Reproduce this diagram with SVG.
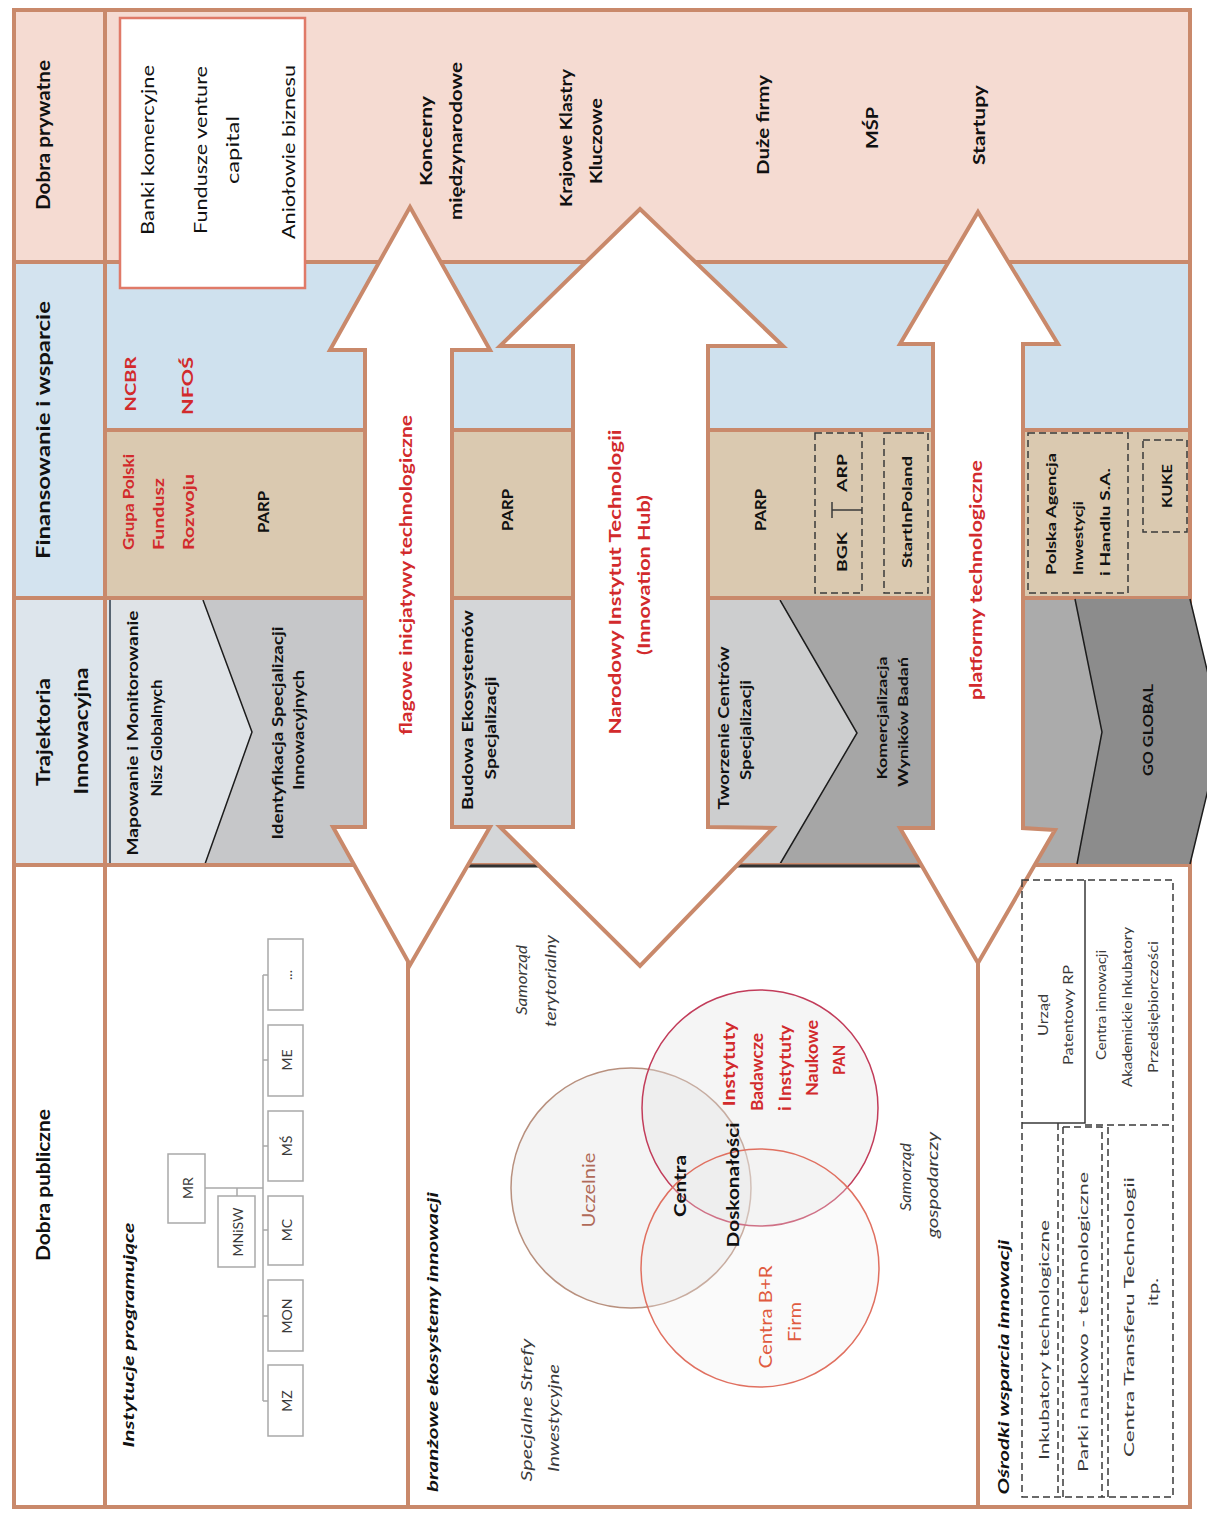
<svg xmlns="http://www.w3.org/2000/svg" width="1207" height="1515" viewBox="0 0 1207 1515">
<style>
.t{font-family:Lato,"Open Sans","Liberation Sans",sans-serif;dominant-baseline:central;text-anchor:middle;fill:#111}
.s{text-anchor:start}
.b{font-weight:700}
.i{font-style:italic}
.r{fill:#d22a2c}
.h{font-size:19px}
.m{font-size:17px}
.n{font-size:15px}
.k{font-size:14px}
.g{fill:#3a3a3a}
.br{stroke:#c9896b;stroke-width:4;fill:none}
.ar{fill:#fff;stroke:#c9896b;stroke-width:4;stroke-linejoin:miter}
.d{fill:none;stroke:#3a3a3a;stroke-width:1.5;stroke-dasharray:7 4}
.sl{fill:none;stroke:#3a3a3a;stroke-width:1.5}
.ob{fill:#fff;stroke:#a9a9a9;stroke-width:1.5}
.cl{fill:none;stroke:#a9a9a9;stroke-width:1.5}
.ch{fill:none;stroke:#1c1c1c;stroke-width:1.5}
</style>
<rect width="1207" height="1515" fill="#fff"/>
<!-- background bands -->
<g id="bands">
<rect x="14" y="10" width="1176" height="252" fill="#f5dbd2"/>
<rect x="14" y="262" width="91" height="336" fill="#d3e3ef"/>
<rect x="105" y="262" width="1085" height="168" fill="#cfe1ee"/>
<rect x="105" y="430" width="1085" height="168" fill="#dac9b0"/>
<rect x="14" y="598" width="91" height="267" fill="#dde5ec"/>
</g>
<!-- trajectory shapes -->
<g id="trajektoria">
<rect x="105" y="598" width="315" height="267" fill="#dfe3e7"/>
<polygon points="203,598 252,732 205,865 420,865 420,598" fill="#c6c7c9"/>
<polyline class="ch" points="203,600 252,732 205,864"/>
<line x1="110" y1="600" x2="110" y2="864" stroke="#2a3a4a" stroke-width="1.5"/>
<rect x="420" y="598" width="220" height="267" fill="#d4d6d8"/>
<rect x="640" y="598" width="338" height="267" fill="#cdcecf"/>
<polygon points="780,598 857,733 780,865 978,865 978,598" fill="#a6a6a6"/>
<polyline class="ch" points="780,600 857,733 780,864"/>
<rect x="978" y="598" width="212" height="267" fill="#ababab"/>
</g>
<!-- grid lines -->
<g id="grid">
<rect class="br" x="14" y="10" width="1176" height="1497"/>
<path class="br" d="M105 10 V1507 M14 262 H1190 M105 430 H1190 M14 598 H1190 M14 865 H1190"/>
<path d="M440 866 H940" stroke="#333" stroke-width="3"/>
</g>
<!-- big arrows -->
<g id="arrow-flagowe">
<polygon class="ar" points="410,207 490,350 452,350 452,827 490,827 410,965 333,827 365,827 365,350 330,350"/>
<text class="t b r m" transform="translate(405,575) rotate(-90)" textLength="320" lengthAdjust="spacingAndGlyphs">flagowe inicjatywy technologiczne</text>
</g>
<g id="arrow-nit">
<polygon class="ar" points="640,209 783,346 708,346 708,827 773,828 640,966 500,827 573,827 573,346 500,346"/>
<text class="t b r m" transform="translate(614,582) rotate(-90)" textLength="305" lengthAdjust="spacingAndGlyphs">Narodowy Instytut Technologii</text>
<text class="t b r m" transform="translate(643,575) rotate(-90)" textLength="160" lengthAdjust="spacingAndGlyphs">(Innovation Hub)</text>
</g>
<g id="arrow-platformy">
<polygon class="ar" points="978,212 1058,344 1023,344 1023,828 1055,830 978,963 900,828 933,828 933,344 900,344"/>
<text class="t b r m" transform="translate(975,580) rotate(-90)" textLength="240" lengthAdjust="spacingAndGlyphs">platformy technologiczne</text>
</g>
<path class="br" d="M408 962 V1507 M978 961 V1507"/>
<!-- GO GLOBAL -->
<g id="go-global">
<polygon points="1075,599 1190,599 1222,732 1190,864 1077,864 1102,732" fill="#8c8c8c"/>
<polyline class="ch" points="1075,599 1102,732 1077,864"/>
<polyline class="ch" points="1190,599 1222,732 1190,864"/>
<text class="t b k" transform="translate(1147,730) rotate(-90)" textLength="92" lengthAdjust="spacingAndGlyphs">GO GLOBAL</text>
</g>
<!-- headers -->
<g id="hdr-prywatne"><text class="t b h" transform="translate(42,135) rotate(-90)" textLength="150" lengthAdjust="spacingAndGlyphs">Dobra prywatne</text></g>
<g id="hdr-finansowanie"><text class="t b h" transform="translate(42,430) rotate(-90)" textLength="258" lengthAdjust="spacingAndGlyphs">Finansowanie i wsparcie</text></g>
<g id="hdr-trajektoria">
<text class="t b h" transform="translate(42,732) rotate(-90)" textLength="108" lengthAdjust="spacingAndGlyphs">Trajektoria</text>
<text class="t b h" transform="translate(80,731) rotate(-90)" textLength="127" lengthAdjust="spacingAndGlyphs">Innowacyjna</text>
</g>
<g id="hdr-publiczne"><text class="t b h" transform="translate(42,1185) rotate(-90)" textLength="152" lengthAdjust="spacingAndGlyphs">Dobra publiczne</text></g>
<!-- row 1 -->
<g id="banki">
<rect x="120" y="18" width="185" height="270" fill="#fff" stroke="#e07a68" stroke-width="2.5"/>
<text class="t m" transform="translate(147,150) rotate(-90)" textLength="170" lengthAdjust="spacingAndGlyphs">Banki komercyjne</text>
<text class="t m" transform="translate(200,150) rotate(-90)" textLength="168" lengthAdjust="spacingAndGlyphs">Fundusze venture</text>
<text class="t m" transform="translate(232,150) rotate(-90)" textLength="68" lengthAdjust="spacingAndGlyphs">capital</text>
<text class="t m" transform="translate(288,152) rotate(-90)" textLength="174" lengthAdjust="spacingAndGlyphs">Aniołowie biznesu</text>
</g>
<g id="koncerny">
<text class="t b m" transform="translate(425,141) rotate(-90)" textLength="90" lengthAdjust="spacingAndGlyphs">Koncerny</text>
<text class="t b m" transform="translate(455,141) rotate(-90)" textLength="158" lengthAdjust="spacingAndGlyphs">międzynarodowe</text>
</g>
<g id="klastry">
<text class="t b m" transform="translate(565,138) rotate(-90)" textLength="138" lengthAdjust="spacingAndGlyphs">Krajowe Klastry</text>
<text class="t b m" transform="translate(595,141) rotate(-90)" textLength="86" lengthAdjust="spacingAndGlyphs">Kluczowe</text>
</g>
<g id="duze"><text class="t b m" transform="translate(762,125) rotate(-90)" textLength="100" lengthAdjust="spacingAndGlyphs">Duże firmy</text></g>
<g id="msp"><text class="t b m" transform="translate(871,128) rotate(-90)" textLength="42" lengthAdjust="spacingAndGlyphs">MŚP</text></g>
<g id="startupy"><text class="t b m" transform="translate(978,125) rotate(-90)" textLength="80" lengthAdjust="spacingAndGlyphs">Startupy</text></g>
<!-- row 2 -->
<g id="ncbr">
<text class="t b r n" transform="translate(130,384) rotate(-90)" textLength="55" lengthAdjust="spacingAndGlyphs">NCBR</text>
<text class="t b r n" transform="translate(187,386) rotate(-90)" textLength="58" lengthAdjust="spacingAndGlyphs">NFOŚ</text>
</g>
<g id="pfr">
<text class="t s b r n" transform="translate(128,550) rotate(-90)" textLength="96" lengthAdjust="spacingAndGlyphs">Grupa Polski</text>
<text class="t s b r n" transform="translate(158,550) rotate(-90)" textLength="72" lengthAdjust="spacingAndGlyphs">Fundusz</text>
<text class="t s b r n" transform="translate(188,550) rotate(-90)" textLength="76" lengthAdjust="spacingAndGlyphs">Rozwoju</text>
</g>
<g id="parp1"><text class="t b n" transform="translate(263,512) rotate(-90)" textLength="42" lengthAdjust="spacingAndGlyphs">PARP</text></g>
<g id="parp2"><text class="t b n" transform="translate(507,510) rotate(-90)" textLength="42" lengthAdjust="spacingAndGlyphs">PARP</text></g>
<g id="parp3"><text class="t b n" transform="translate(760,510) rotate(-90)" textLength="42" lengthAdjust="spacingAndGlyphs">PARP</text></g>
<g id="bgk-arp">
<rect class="d" x="815" y="433" width="47" height="160"/>
<path class="sl" d="M832 510 H862 M832 502 V518"/>
<text class="t b k" transform="translate(841,473) rotate(-90)" textLength="38" lengthAdjust="spacingAndGlyphs">ARP</text>
<text class="t b k" transform="translate(841,552) rotate(-90)" textLength="40" lengthAdjust="spacingAndGlyphs">BGK</text>
</g>
<g id="startinpoland">
<rect class="d" x="884" y="433" width="44" height="160"/>
<text class="t b k" transform="translate(906,512) rotate(-90)" textLength="112" lengthAdjust="spacingAndGlyphs">StartInPoland</text>
</g>
<g id="paih">
<rect class="d" x="1028" y="433" width="100" height="160"/>
<text class="t s b k" transform="translate(1050,575) rotate(-90)" textLength="122" lengthAdjust="spacingAndGlyphs">Polska Agencja</text>
<text class="t s b k" transform="translate(1077,575) rotate(-90)" textLength="74" lengthAdjust="spacingAndGlyphs">Inwestycji</text>
<text class="t s b k" transform="translate(1104,576) rotate(-90)" textLength="108" lengthAdjust="spacingAndGlyphs">i Handlu S.A.</text>
</g>
<g id="kuke">
<rect class="d" x="1143" y="440" width="44" height="92"/>
<text class="t b k" transform="translate(1166,486) rotate(-90)" textLength="44" lengthAdjust="spacingAndGlyphs">KUKE</text>
</g>
<!-- row 3 texts -->
<g id="mapowanie">
<text class="t b n" transform="translate(132,733) rotate(-90)" textLength="245" lengthAdjust="spacingAndGlyphs">Mapowanie i Monitorowanie</text>
<text class="t b n" transform="translate(156,738) rotate(-90)" textLength="117" lengthAdjust="spacingAndGlyphs">Nisz Globalnych</text>
</g>
<g id="identyfikacja">
<text class="t b n" transform="translate(277,733) rotate(-90)" textLength="213" lengthAdjust="spacingAndGlyphs">Identyfikacja Specjalizacji</text>
<text class="t b n" transform="translate(298,730) rotate(-90)" textLength="120" lengthAdjust="spacingAndGlyphs">Innowacyjnych</text>
</g>
<g id="budowa">
<text class="t b n" transform="translate(467,710) rotate(-90)" textLength="200" lengthAdjust="spacingAndGlyphs">Budowa Ekosystemów</text>
<text class="t b n" transform="translate(490,728) rotate(-90)" textLength="103" lengthAdjust="spacingAndGlyphs">Specjalizacji</text>
</g>
<g id="tworzenie">
<text class="t b n" transform="translate(723,728) rotate(-90)" textLength="163" lengthAdjust="spacingAndGlyphs">Tworzenie Centrów</text>
<text class="t b n" transform="translate(745,730) rotate(-90)" textLength="100" lengthAdjust="spacingAndGlyphs">Specjalizacji</text>
</g>
<g id="komercjalizacja">
<text class="t b k" transform="translate(881,718) rotate(-90)" textLength="123" lengthAdjust="spacingAndGlyphs">Komercjalizacja</text>
<text class="t b k" transform="translate(902,722) rotate(-90)" textLength="130" lengthAdjust="spacingAndGlyphs">Wyników Badań</text>
</g>
<!-- row 4: instytucje programujace -->
<g id="instytucje"><text class="t b i n" transform="translate(128,1335) rotate(-90)" textLength="225" lengthAdjust="spacingAndGlyphs">Instytucje programujące</text></g>
<g id="connectors">
<path class="cl" d="M205 1188 H263 M237 1188 V1196 M263 975 V1401 M263 975 H268 M263 1060 H268 M263 1146 H268 M263 1230 H268 M263 1316 H268 M263 1401 H268"/>
</g>
<g id="mr"><rect class="ob" x="168" y="1154" width="37" height="69"/><text class="t k g" transform="translate(187,1188) rotate(-90)">MR</text></g>
<g id="mnisw"><rect class="ob" x="218" y="1196" width="37" height="71"/><text class="t k g" transform="translate(237,1232) rotate(-90)">MNiSW</text></g>
<g id="dots"><rect class="ob" x="268" y="939" width="35" height="71"/><text class="t k g" transform="translate(286,975) rotate(-90)">...</text></g>
<g id="me"><rect class="ob" x="268" y="1025" width="35" height="71"/><text class="t k g" transform="translate(286,1060) rotate(-90)">ME</text></g>
<g id="ms"><rect class="ob" x="268" y="1111" width="35" height="70"/><text class="t k g" transform="translate(286,1146) rotate(-90)">MŚ</text></g>
<g id="mc"><rect class="ob" x="268" y="1196" width="35" height="69"/><text class="t k g" transform="translate(286,1230) rotate(-90)">MC</text></g>
<g id="mon"><rect class="ob" x="268" y="1280" width="35" height="71"/><text class="t k g" transform="translate(286,1316) rotate(-90)">MON</text></g>
<g id="mz"><rect class="ob" x="268" y="1365" width="35" height="71"/><text class="t k g" transform="translate(286,1401) rotate(-90)">MZ</text></g>
<!-- row 4: ekosystemy -->
<g id="ekosystemy"><text class="t b i n" transform="translate(432,1342) rotate(-90)" textLength="300" lengthAdjust="spacingAndGlyphs">branżowe ekosystemy innowacji</text></g>
<g id="samorzad-ter">
<text class="t i n g" transform="translate(521,980) rotate(-90)" textLength="70" lengthAdjust="spacingAndGlyphs">Samorząd</text>
<text class="t i n g" transform="translate(550,981) rotate(-90)" textLength="92" lengthAdjust="spacingAndGlyphs">terytorialny</text>
</g>
<g id="sse">
<text class="t i n g" transform="translate(526,1410) rotate(-90)" textLength="143" lengthAdjust="spacingAndGlyphs">Specjalne Strefy</text>
<text class="t i n g" transform="translate(553,1418) rotate(-90)" textLength="108" lengthAdjust="spacingAndGlyphs">Inwestycyjne</text>
</g>
<g id="samorzad-gosp">
<text class="t i n g" transform="translate(905,1177) rotate(-90)" textLength="68" lengthAdjust="spacingAndGlyphs">Samorząd</text>
<text class="t i n g" transform="translate(932,1185) rotate(-90)" textLength="106" lengthAdjust="spacingAndGlyphs">gospodarczy</text>
</g>
<g id="uczelnie">
<circle cx="631" cy="1188" r="120" fill="#e6e6e6" fill-opacity="0.45" stroke="#b8907e" stroke-width="1.5"/>
<text class="t m" transform="translate(588,1190) rotate(-90)" textLength="75" lengthAdjust="spacingAndGlyphs" style="fill:#b06a58">Uczelnie</text>
</g>
<g id="instytuty">
<circle cx="760" cy="1108" r="118" fill="#e2e2e2" fill-opacity="0.35" stroke="#c23c5a" stroke-width="1.5"/>
<text class="t b r m" transform="translate(728,1064) rotate(-90)" textLength="85" lengthAdjust="spacingAndGlyphs">Instytuty</text>
<text class="t b r m" transform="translate(756,1072) rotate(-90)" textLength="78" lengthAdjust="spacingAndGlyphs">Badawcze</text>
<text class="t b r m" transform="translate(784,1068) rotate(-90)" textLength="86" lengthAdjust="spacingAndGlyphs">i Instytuty</text>
<text class="t b r m" transform="translate(811,1058) rotate(-90)" textLength="76" lengthAdjust="spacingAndGlyphs">Naukowe</text>
<text class="t b r m" transform="translate(838,1060) rotate(-90)" textLength="30" lengthAdjust="spacingAndGlyphs">PAN</text>
</g>
<g id="centra-br">
<circle cx="760" cy="1268" r="119" fill="#f0f0f0" fill-opacity="0.3" stroke="#e07060" stroke-width="1.5"/>
<text class="t m" transform="translate(765,1317) rotate(-90)" textLength="103" lengthAdjust="spacingAndGlyphs" style="fill:#e05a40">Centra B+R</text>
<text class="t m" transform="translate(794,1322) rotate(-90)" textLength="40" lengthAdjust="spacingAndGlyphs" style="fill:#e05a40">Firm</text>
</g>
<g id="centra-doskonalosci">
<text class="t b m" transform="translate(679,1186) rotate(-90)" textLength="62" lengthAdjust="spacingAndGlyphs">Centra</text>
<text class="t b m" transform="translate(732,1185) rotate(-90)" textLength="125" lengthAdjust="spacingAndGlyphs">Doskonałości</text>
</g>
<!-- row 4: osrodki -->
<g id="osrodki"><text class="t b i n" transform="translate(1003,1367) rotate(-90)" textLength="255" lengthAdjust="spacingAndGlyphs">Ośrodki wsparcia innowacji</text></g>
<g id="osrodki-boxes">
<rect class="d" x="1022" y="880" width="151" height="617"/>
<path class="sl" d="M1085 880 V1123 H1022"/>
<path class="d" d="M1085 1125 H1173 M1058 1123 V1497 M1063 1127 H1102 V1497 M1063 1127 V1497 M1108 1127 V1497"/>
</g>
<g id="urzad">
<text class="t k g" transform="translate(1042,1015) rotate(-90)" textLength="42" lengthAdjust="spacingAndGlyphs">Urząd</text>
<text class="t k g" transform="translate(1067,1015) rotate(-90)" textLength="100" lengthAdjust="spacingAndGlyphs">Patentowy RP</text>
</g>
<g id="centra-innowacji">
<text class="t k g" transform="translate(1100,1005) rotate(-90)" textLength="110" lengthAdjust="spacingAndGlyphs">Centra innowacji</text>
<text class="t k g" transform="translate(1126,1007) rotate(-90)" textLength="160" lengthAdjust="spacingAndGlyphs">Akademickie Inkubatory</text>
<text class="t k g" transform="translate(1152,1007) rotate(-90)" textLength="132" lengthAdjust="spacingAndGlyphs">Przedsiębiorczości</text>
</g>
<g id="inkubatory"><text class="t k g" transform="translate(1043,1340) rotate(-90)" textLength="240" lengthAdjust="spacingAndGlyphs">Inkubatory technologiczne</text></g>
<g id="parki"><text class="t k g" transform="translate(1082,1322) rotate(-90)" textLength="300" lengthAdjust="spacingAndGlyphs">Parki naukowo - technologiczne</text></g>
<g id="transfer">
<text class="t k g" transform="translate(1128,1317) rotate(-90)" textLength="280" lengthAdjust="spacingAndGlyphs">Centra Transferu Technologii</text>
<text class="t k g" transform="translate(1152,1292) rotate(-90)" textLength="28" lengthAdjust="spacingAndGlyphs">itp.</text>
</g>
</svg>
